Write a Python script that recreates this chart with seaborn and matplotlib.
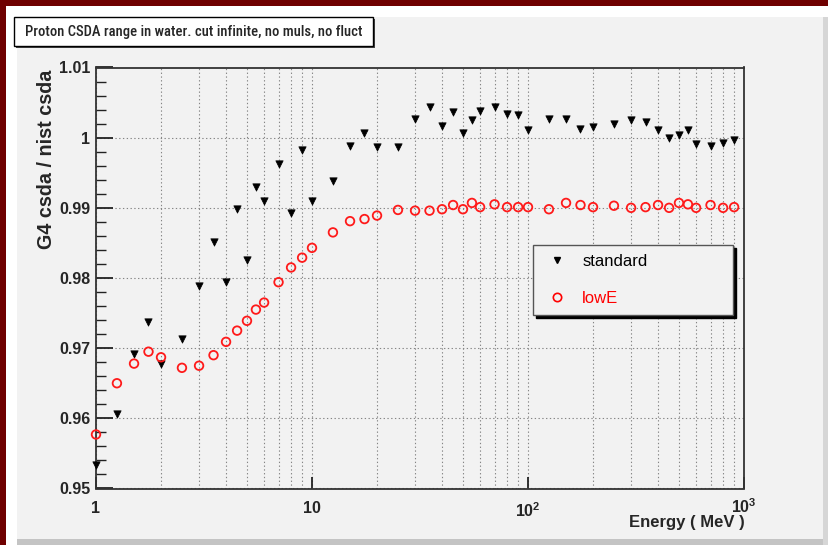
import numpy as np
import pandas as pd
import matplotlib
matplotlib.use("Agg")
import matplotlib.pyplot as plt
import seaborn as sns
from matplotlib.patches import Rectangle
from matplotlib.lines import Line2D
from matplotlib.ticker import FixedLocator, FixedFormatter, LogLocator, NullFormatter, MultipleLocator
import matplotlib.transforms as mtrans

# ---------------- data ----------------
energy = [1, 1.25, 1.5, 1.75, 2, 2.5, 3, 3.5, 4, 4.5, 5, 5.5, 6, 7, 8, 9, 10,
          12.5, 15, 17.5, 20, 25, 30, 35, 40, 45, 50, 55, 60, 70, 80, 90, 100,
          125, 150, 175, 200, 250, 300, 350, 400, 450, 500, 550, 600, 700, 800, 900]
standard = [0.9534, 0.9606, 0.9691, 0.9737, 0.9677, 0.9713, 0.9788, 0.9851, 0.9795, 0.9898,
            0.9825, 0.9929, 0.9910, 0.9962, 0.9893, 0.9983, 0.9910,
            0.9938, 0.9988, 1.0007, 0.9987, 0.9987, 1.0026, 1.0044, 1.0017, 1.0036, 1.0006,
            1.0025, 1.0038, 1.0044, 1.0034, 1.0032, 1.0011,
            1.0027, 1.0026, 1.0013, 1.0015, 1.0019, 1.0025, 1.0022, 1.0011, 1.0000, 1.0004,
            1.0011, 0.9991, 0.9988, 0.9992, 0.9997]
lowE = [0.9577, 0.9650, 0.9678, 0.9695, 0.9687, 0.9672, 0.9675, 0.9690, 0.9709, 0.9725,
        0.9739, 0.9755, 0.9765, 0.9794, 0.9815, 0.9829, 0.9843,
        0.9865, 0.9881, 0.9884, 0.9889, 0.9897, 0.9896, 0.9896, 0.9898, 0.9904, 0.9898,
        0.9907, 0.9901, 0.9905, 0.9901, 0.9901, 0.9901,
        0.9898, 0.9907, 0.9904, 0.9901, 0.9903, 0.9900, 0.9901, 0.9904, 0.9900, 0.9907,
        0.9905, 0.9900, 0.9904, 0.9900, 0.9901]
series_names = ["standard", "lowE"]
x_ticks = [1, 10, 100, 1000]
x_tick_labels = ["1", "10", r"$\mathdefault{10^{2}}$", r"$\mathdefault{10^{3}}$"]
y_ticks = [0.95, 0.96, 0.97, 0.98, 0.99, 1.0, 1.01]
y_tick_labels = ["0.95", "0.96", "0.97", "0.98", "0.99", "1", "1.01"]
title = "Proton CSDA range in water. cut infinite, no muls, no fluct"
x_label = "Energy ( MeV )"
y_label = "G4 csda / nist csda"

df = pd.DataFrame({
    "Energy": energy + energy,
    "ratio": standard + lowE,
    "series": [series_names[0]] * len(energy) + [series_names[1]] * len(energy),
})

# ---------------- style ----------------
sns.set_style("white")
plt.rcParams['font.family'] = ['Liberation Sans', 'DejaVu Sans']
plt.rcParams['font.weight'] = 'bold'
plt.rcParams['mathtext.fontset'] = 'custom'
plt.rcParams['mathtext.rm'] = 'Liberation Sans:bold'
plt.rcParams['mathtext.it'] = 'Liberation Sans:bold'
plt.rcParams['mathtext.bf'] = 'Liberation Sans:bold'

W, H = 829, 545
BG = '#f2f2f2'
fig = plt.figure(figsize=(W / 100, H / 100), dpi=100, facecolor=BG)


def fx(px):
    return px / W


def fy(py):
    return 1 - py / H


def frect(x0, y0, x1, y1, **kw):
    r = Rectangle((fx(x0), fy(y1)), fx(x1) - fx(x0), fy(y0) - fy(y1),
                  transform=fig.transFigure, **kw)
    fig.add_artist(r)
    return r


# canvas decorations
frect(6, 6, W, 17, facecolor='white', edgecolor='none', zorder=-5)
frect(6, 6, 17, H, facecolor='white', edgecolor='none', zorder=-5)
frect(0, 0, W, 6, facecolor='#6f0000', edgecolor='none', zorder=-4)
frect(0, 0, 6, H, facecolor='#6f0000', edgecolor='none', zorder=-4)
frect(17, 539, W, H, facecolor='#c4c4c4', edgecolor='none', zorder=-4)
frect(823, 17, W, H, facecolor='#d6d6d6', edgecolor='none', zorder=-4)

# ---------------- axes ----------------
ax = fig.add_axes([fx(96), fy(488.5), fx(744) - fx(96), fy(67.5) - fy(488.5)])
ax.set_facecolor(BG)

sns.scatterplot(data=df[df.series == series_names[0]], x="Energy", y="ratio",
                marker='v', color='black', edgecolor='black', s=28, linewidth=0.5,
                legend=False, ax=ax, zorder=3, clip_on=False)
sns.scatterplot(data=df[df.series == series_names[1]], x="Energy", y="ratio",
                marker='o', color='#ff0000', facecolor='none', edgecolor='#ff1a1a',
                s=38, linewidth=1.3, legend=False, ax=ax, zorder=3, clip_on=False)

ax.set_xscale('log')
ax.set_xlim(1, 1000)
ax.set_ylim(0.95, 1.01)
ax.xaxis.set_major_locator(FixedLocator(x_ticks))
ax.xaxis.set_major_formatter(FixedFormatter(x_tick_labels))
ax.xaxis.set_minor_locator(LogLocator(base=10, subs=np.arange(2, 10)))
ax.xaxis.set_minor_formatter(NullFormatter())
ax.yaxis.set_major_locator(FixedLocator(y_ticks))
ax.yaxis.set_major_formatter(FixedFormatter(y_tick_labels))
ax.yaxis.set_minor_locator(MultipleLocator(0.002))

grid_kw = dict(color='#858585', linestyle=(0, (1.2, 2.2)), linewidth=0.8)
ax.grid(which='major', axis='both', **grid_kw)
ax.grid(which='minor', axis='x', **grid_kw)
ax.set_axisbelow(True)

ax.tick_params(axis='y', which='major', direction='in', length=12, width=1.3,
               left=True, right=False, labelsize=11.5, pad=4, color='#222222')
ax.tick_params(axis='y', which='minor', direction='in', length=7, width=1.0,
               left=True, right=False, color='#222222')
ax.tick_params(axis='x', which='major', direction='in', length=9, width=1.3,
               bottom=True, top=False, labelsize=11.5, pad=9, color='#222222')
ax.tick_params(axis='x', which='minor', direction='in', length=0, width=0.8,
               bottom=True, top=False)
for sp in ax.spines.values():
    sp.set_visible(True)
    sp.set_color('#333333')
    sp.set_linewidth(1.3)

ax.set_xlabel(x_label, loc='right', fontsize=12, fontweight='bold')
ax.xaxis.set_label_coords(1.0015, -0.064)
ax.set_ylabel(y_label, loc='top', fontsize=14.2, fontweight='bold')
ax.yaxis.set_label_coords(-0.061, 0.994)

# raise the last (10^3) tick label a little, as in the reference
fig.canvas.draw()
xt = ax.xaxis.get_major_ticks()
xt[-1].label1.set_transform(xt[-1].label1.get_transform() +
                            mtrans.ScaledTranslation(0, 4 / 100, fig.dpi_scale_trans))

# ---------------- legend ----------------
handles = [
    Line2D([], [], marker='v', linestyle='none', color='black', markersize=5),
    Line2D([], [], marker='o', linestyle='none', markerfacecolor='none',
           markeredgecolor='#ff0000', markeredgewidth=1.2, markersize=6),
]
leg = ax.legend(handles, series_names, loc='upper left',
                bbox_to_anchor=(fx(533), fy(310), fx(733) - fx(533), fy(245) - fy(310)),
                bbox_transform=fig.transFigure, mode='expand', borderaxespad=0,
                prop={'size': 12, 'weight': 'normal'}, frameon=True, fancybox=False,
                shadow={'color': 'black', 'alpha': 1}, framealpha=1, facecolor=BG,
                edgecolor='#555555', handlelength=1.8, handletextpad=0.6,
                labelspacing=1.3, borderpad=0.55)
leg.get_frame().set_linewidth(1.0)
for t, c in zip(leg.get_texts(), ['black', '#ff0000']):
    t.set_color(c)

# ---------------- title box ----------------
frect(16, 19, 375, 48, facecolor='#444444', edgecolor='none', zorder=2)
frect(14, 17, 373, 46, facecolor='white', edgecolor='black', linewidth=1.0, zorder=3)
ttl = fig.text(fx(25), fy(32), title, fontsize=13, fontweight='medium',
               family=['Roboto Condensed', 'Liberation Sans Narrow', 'DejaVu Sans Condensed',
                       'Arial Narrow', 'Liberation Sans'],
               ha='left', va='center', zorder=4)
# fit the title to the width of its box
r = fig.canvas.get_renderer()
wpx = ttl.get_window_extent(renderer=r).width
target = 337.0
if wpx > target:
    ttl.set_fontsize(13 * target / wpx)

fig.savefig('out.png', dpi=100, facecolor=BG)
